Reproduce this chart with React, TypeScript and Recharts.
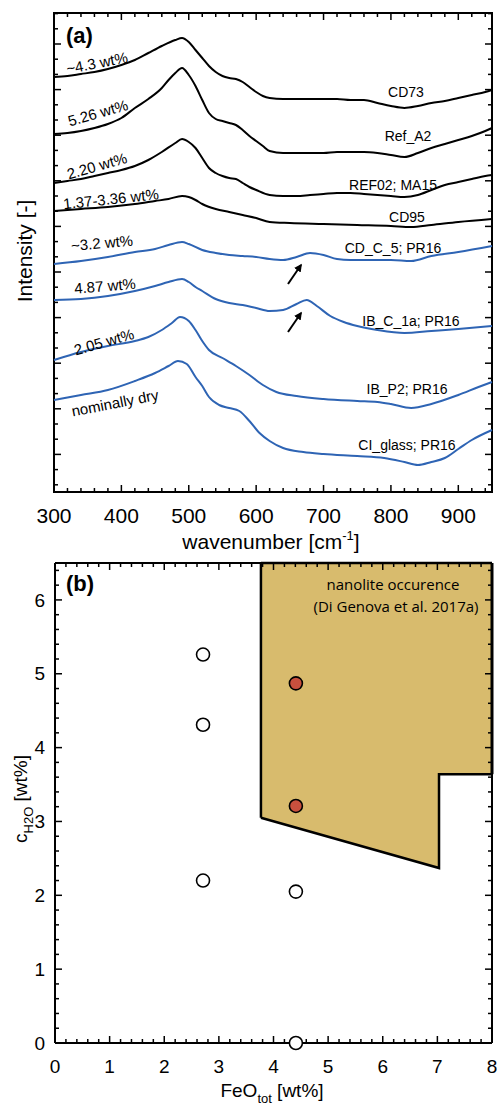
import { LineChart, Line, XAxis, YAxis, ReferenceArea, ReferenceLine, ComposedChart, Area, Scatter, CartesianGrid } from 'recharts';

const FONT = '"Liberation Sans", Arial, sans-serif';
const BLUE = '#2e64b4';
const SAND = '#d8bb6d';
const RED = '#c8503e';

// Raman spectra: [wavenumber cm-1, intensity (arb. units, stacked)]
const cd73 = [[300, 423], [320, 424], [340, 426], [360, 428], [380, 431], [400, 435], [420, 440], [440, 447], [460, 454], [480, 460], [490, 462], [500, 458], [510, 450], [520, 442], [530, 434], [540, 428], [550, 424], [560, 422], [570, 421], [580, 418], [590, 413], [600, 408], [610, 404], [620, 402], [640, 401], [660, 401], [680, 401], [700, 401], [720, 401], [740, 400], [760, 400], [780, 397], [800, 394], [820, 392], [840, 394], [860, 397], [880, 399], [900, 402], [920, 405], [940, 408], [950, 410]];
const refA2 = [[300, 366], [320, 367], [340, 369], [360, 372], [380, 376], [400, 382], [420, 392], [440, 401], [460, 412], [470, 420], [480, 427], [490, 432], [500, 425], [510, 414], [520, 400], [530, 387], [540, 381], [550, 379], [560, 377], [570, 375], [580, 370], [590, 364], [600, 359], [610, 354], [620, 349], [640, 347], [660, 347], [680, 347], [700, 347], [720, 348], [740, 348], [760, 348], [780, 347], [800, 345], [820, 343], [840, 347], [860, 352], [880, 356], [900, 360], [920, 364], [940, 369], [950, 372]];
const ref02 = [[300, 317], [320, 319], [340, 321], [360, 324], [380, 327], [400, 330], [420, 334], [440, 340], [460, 348], [480, 357], [490, 361], [500, 358], [510, 352], [520, 342], [530, 332], [540, 327], [550, 324], [560, 322], [570, 321], [580, 317], [590, 313], [600, 310], [620, 305], [640, 304], [660, 304], [680, 305], [700, 306], [720, 307], [740, 307], [760, 306], [780, 305], [800, 304], [820, 303], [840, 305], [860, 310], [880, 315], [900, 318], [920, 321], [940, 324], [950, 325]];
const cd95 = [[300, 289], [340, 291], [380, 293], [420, 296], [450, 299], [470, 301], [490, 304], [500, 303], [510, 300], [520, 296], [540, 291], [560, 288], [580, 285], [600, 282], [620, 278], [650, 277], [700, 276], [750, 275], [800, 274], [830, 273], [860, 275], [900, 278], [950, 281]];
const cdC5 = [[300, 236], [340, 239], [380, 243], [420, 248], [450, 251], [470, 255], [490, 258], [500, 256], [520, 250], [540, 247], [560, 245], [580, 244], [600, 243], [620, 241], [640, 240], [660, 243], [680, 247], [700, 245], [720, 241], [740, 240], [760, 240], [800, 240], [830, 239], [860, 244], [900, 248], [950, 254]];
const ibC1a = [[300, 200], [340, 201], [380, 204], [420, 209], [450, 214], [470, 218], [490, 221], [500, 218], [510, 213], [520, 209], [540, 201], [560, 197], [580, 195], [600, 192], [620, 189], [640, 190], [660, 196], [675, 200], [690, 194], [710, 184], [730, 178], [750, 174], [780, 170], [820, 167], [860, 169], [900, 171], [950, 174]];
const ibP2 = [[300, 140], [340, 148], [380, 154], [420, 159], [440, 163], [460, 170], [475, 177], [487, 183], [500, 179], [510, 170], [520, 159], [530, 150], [550, 142], [570, 134], [590, 125], [610, 115], [630, 108], [660, 104], [700, 101], [750, 99], [780, 98], [800, 96], [830, 92], [860, 96], [900, 105], [930, 113], [950, 118]];
const ciGlass = [[300, 100], [340, 105], [380, 110], [420, 119], [450, 127], [470, 134], [484, 139], [497, 136], [510, 123], [520, 114], [530, 103], [545, 95], [560, 92], [575, 89], [590, 79], [605, 67], [620, 59], [640, 52], [670, 48], [700, 46], [750, 44], [790, 42], [820, 38], [840, 35], [860, 38], [880, 42], [900, 51], [920, 60], [950, 70]];

const spectra = [
  { name: 'CD73', color: '#000', pts: cd73 },
  { name: 'Ref_A2', color: '#000', pts: refA2 },
  { name: 'REF02; MA15', color: '#000', pts: ref02 },
  { name: 'CD95', color: '#000', pts: cd95 },
  { name: 'CD_C_5; PR16', color: BLUE, pts: cdC5 },
  { name: 'IB_C_1a; PR16', color: BLUE, pts: ibC1a },
  { name: 'IB_P2; PR16', color: BLUE, pts: ibP2 },
  { name: 'CI_glass; PR16', color: BLUE, pts: ciGlass },
];

// panel (b): FeO_tot [wt%] vs c_H2O [wt%]
const dryFeO = [2.71, 2.71, 2.71, 4.41, 4.41];
const dryH2O = [5.26, 4.31, 2.2, 2.05, 0];
const nanoFeO = [4.41, 4.41];
const nanoH2O = [4.87, 3.21];
// nanolite field outline (Di Genova et al. 2017a)
const fieldFeO = [3.77, 7.03, 7.03, 8];
const fieldLow = [3.05, 2.37, 3.64, 3.64];
const fieldTop = 6.5;

const wnTicks = Array.from({ length: 33 }, (_, i) => 300 + 20 * i);
const intTicks = Array.from({ length: 32 }, (_, i) => 15.2 * (i + 1));
const feoTicks = Array.from({ length: 41 }, (_, i) => i / 5);
const h2oTicks = Array.from({ length: 33 }, (_, i) => i / 5);

const wtLabels = [
  { text: '~4.3 wt%', x: 97, y: 63, a: -11 },
  { text: '5.26 wt%', x: 98, y: 113, a: -16 },
  { text: '2.20 wt%', x: 97, y: 166, a: -16 },
  { text: '1.37-3.36 wt%', x: 111, y: 199, a: -6 },
  { text: '~3.2 wt%', x: 102, y: 243, a: -5 },
  { text: '4.87 wt%', x: 105, y: 286, a: -4.5 },
  { text: '2.05 wt%', x: 104, y: 342, a: -16 },
  { text: 'nominally dry', x: 115, y: 403, a: -11 },
];
const nameLabels = [
  { x: 406, y: 92 }, { x: 408, y: 136 }, { x: 393, y: 185 }, { x: 407, y: 217 },
  { x: 393, y: 248 }, { x: 411, y: 321 }, { x: 407, y: 389 }, { x: 407, y: 445 },
];

const isInt = (v: number) => Math.abs(v - Math.round(v)) < 1e-6;

function TickX(props: any) {
  const { x, y, payload, ph, major, fontSize, labelDy } = props;
  const m = major(payload.value);
  const len = m ? 7 : 4;
  return (
    <g>
      <line x1={x} y1={y} x2={x} y2={y - len} stroke="#000" strokeWidth={1.5} />
      <line x1={x} y1={y - ph} x2={x} y2={y - ph + len} stroke="#000" strokeWidth={1.5} />
      {m && (
        <text x={x} y={y + labelDy} textAnchor="middle" fontSize={fontSize} fontFamily={FONT} fill="#000">
          {Math.round(payload.value)}
        </text>
      )}
    </g>
  );
}

function TickY(props: any) {
  const { x, y, payload, pw, major, fontSize, labels } = props;
  const m = major(payload.value);
  const len = m ? 7 : 4;
  return (
    <g>
      <line x1={x} y1={y} x2={x + len} y2={y} stroke="#000" strokeWidth={1.5} />
      <line x1={x + pw} y1={y} x2={x + pw - len} y2={y} stroke="#000" strokeWidth={1.5} />
      {m && labels && (
        <text x={x - 10} y={y} dy="0.35em" textAnchor="end" fontSize={fontSize} fontFamily={FONT} fill="#000">
          {Math.round(payload.value)}
        </text>
      )}
    </g>
  );
}

const circle = (fill: string) => (p: any) => (
  <circle cx={p.cx} cy={p.cy} r={6.5} fill={fill} stroke="#000" strokeWidth={1.6} />
);

export default function App() {
  const dryRows = dryFeO.map((x, i) => ({ x, y: dryH2O[i] }));
  const nanoRows = nanoFeO.map((x, i) => ({ x, y: nanoH2O[i] }));
  const fieldRows = fieldFeO.map((x, i) => ({ x, range: [fieldLow[i], fieldTop] }));

  return (
    <div style={{ position: 'absolute', left: 0, top: 0, width: 497, height: 1105, background: '#fff' }}>
      <div style={{ position: 'absolute', left: 0, top: 0 }}>
        <LineChart width={497} height={555} margin={{ top: 13, right: 5, bottom: 23, left: 4 }}>
          <XAxis
            dataKey="wn"
            type="number"
            domain={[300, 950]}
            ticks={wnTicks}
            interval={0}
            height={40}
            tickSize={0}
            tickMargin={0}
            axisLine={false}
            tickLine={false}
            tick={(p: any) => <TickX {...p} ph={479} major={(v: number) => v % 100 === 0} fontSize={21} labelDy={31} />}
          />
          <YAxis
            type="number"
            domain={[8, 487]}
            ticks={intTicks}
            interval={0}
            width={50}
            tickSize={0}
            tickMargin={0}
            axisLine={false}
            tickLine={false}
            tick={(p: any) => <TickY {...p} pw={438} major={(v: number) => Math.round(v / 15.2) % 3 === 0} />}
          />
          {spectra.map((s) => (
            <Line
              key={s.name}
              data={s.pts.map(([wn, v]) => ({ wn, v }))}
              dataKey="v"
              type="monotone"
              stroke={s.color}
              strokeWidth={2}
              dot={false}
              activeDot={false}
              isAnimationActive={false}
            />
          ))}
          <ReferenceArea x1={300} x2={950} y1={8} y2={487} fill="none" stroke="#000" strokeWidth={2} />
        </LineChart>
      </div>

      <div style={{ position: 'absolute', left: 0, top: 555 }}>
        <ComposedChart width={497} height={550} margin={{ top: 8, right: 5, bottom: 22, left: 5 }}>
          <CartesianGrid horizontalValues={[0, 6.5]} verticalValues={[0, 8]} stroke="#000" strokeWidth={2} />
          <XAxis
            dataKey="x"
            type="number"
            domain={[0, 8]}
            ticks={feoTicks}
            interval={0}
            height={40}
            tickSize={0}
            tickMargin={0}
            axisLine={false}
            tickLine={false}
            tick={(p: any) => <TickX {...p} ph={480} major={isInt} fontSize={19} labelDy={30} />}
          />
          <YAxis
            dataKey="y"
            type="number"
            domain={[0, 6.5]}
            ticks={h2oTicks}
            interval={0}
            width={50}
            tickSize={0}
            tickMargin={0}
            axisLine={false}
            tickLine={false}
            tick={(p: any) => <TickY {...p} pw={437} major={isInt} fontSize={19} labels />}
          />
          <Area
            data={fieldRows}
            dataKey="range"
            type="linear"
            fill={SAND}
            fillOpacity={1}
            stroke="#000"
            strokeWidth={2.5}
            dot={false}
            activeDot={false}
            isAnimationActive={false}
          />
          <ReferenceLine
            segment={[{ x: fieldFeO[0], y: fieldLow[0] }, { x: fieldFeO[0], y: fieldTop }]}
            stroke="#000"
            strokeWidth={2.5}
          />
          <ReferenceLine
            segment={[{ x: fieldFeO[3], y: fieldLow[3] }, { x: fieldFeO[3], y: fieldTop }]}
            stroke="#000"
            strokeWidth={3}
          />
          <Scatter data={dryRows} shape={circle('#fff')} isAnimationActive={false} zIndex={2000} />
          <Scatter data={nanoRows} shape={circle(RED)} isAnimationActive={false} zIndex={2000} />
        </ComposedChart>
      </div>

      <svg width={497} height={1105} style={{ position: 'absolute', left: 0, top: 0, pointerEvents: 'none' }} fontFamily={FONT}>
        <defs>
          <marker id="ah" viewBox="0 0 10 10" refX="8" refY="5" markerWidth="4" markerHeight="4" orient="auto">
            <path d="M0,0 L10,5 L0,10 z" fill="#000" />
          </marker>
        </defs>
        <text x={66} y={43} fontSize={22} fontWeight="bold">(a)</text>
        <text x={66} y={591} fontSize={22} fontWeight="bold">(b)</text>
        {wtLabels.map((l) => (
          <text key={l.text} x={l.x} y={l.y} dy="0.35em" textAnchor="middle" fontSize={15} transform={`rotate(${l.a} ${l.x} ${l.y})`}>
            {l.text}
          </text>
        ))}
        {spectra.map((s, i) => (
          <text key={s.name} x={nameLabels[i].x} y={nameLabels[i].y} dy="0.35em" textAnchor="middle" fontSize={14}>
            {s.name}
          </text>
        ))}
        <line x1={288} y1={284} x2={301} y2={265} stroke="#000" strokeWidth={2} markerEnd="url(#ah)" />
        <line x1={288} y1={332} x2={301} y2={313} stroke="#000" strokeWidth={2} markerEnd="url(#ah)" />
        <text x={271} y={549} textAnchor="middle" fontSize={21}>
          wavenumber [cm<tspan dy={-9} fontSize={13}>-1</tspan><tspan dy={9}>]</tspan>
        </text>
        <text x={32} y={251} textAnchor="middle" fontSize={21} transform="rotate(-90 32 251)">Intensity [-]</text>
        <text x={272} y={1097} textAnchor="middle" fontSize={19}>
          FeO<tspan dy={6} fontSize={13}>tot</tspan><tspan dy={-6}> [wt%]</tspan>
        </text>
        <text x={27} y={799} textAnchor="middle" fontSize={19} transform="rotate(-90 27 799)">
          c<tspan dy={6} fontSize={13}>H2O</tspan><tspan dy={-6}> [wt%]</tspan>
        </text>
        <text x={393} y={585} dy="0.35em" textAnchor="middle" fontSize={15} fontFamily='"Open Sans", sans-serif'>nanolite occurence</text>
        <text x={396} y={607} dy="0.35em" textAnchor="middle" fontSize={15} fontFamily='"Open Sans", sans-serif'>(Di Genova et al. 2017a)</text>
      </svg>
    </div>
  );
}
